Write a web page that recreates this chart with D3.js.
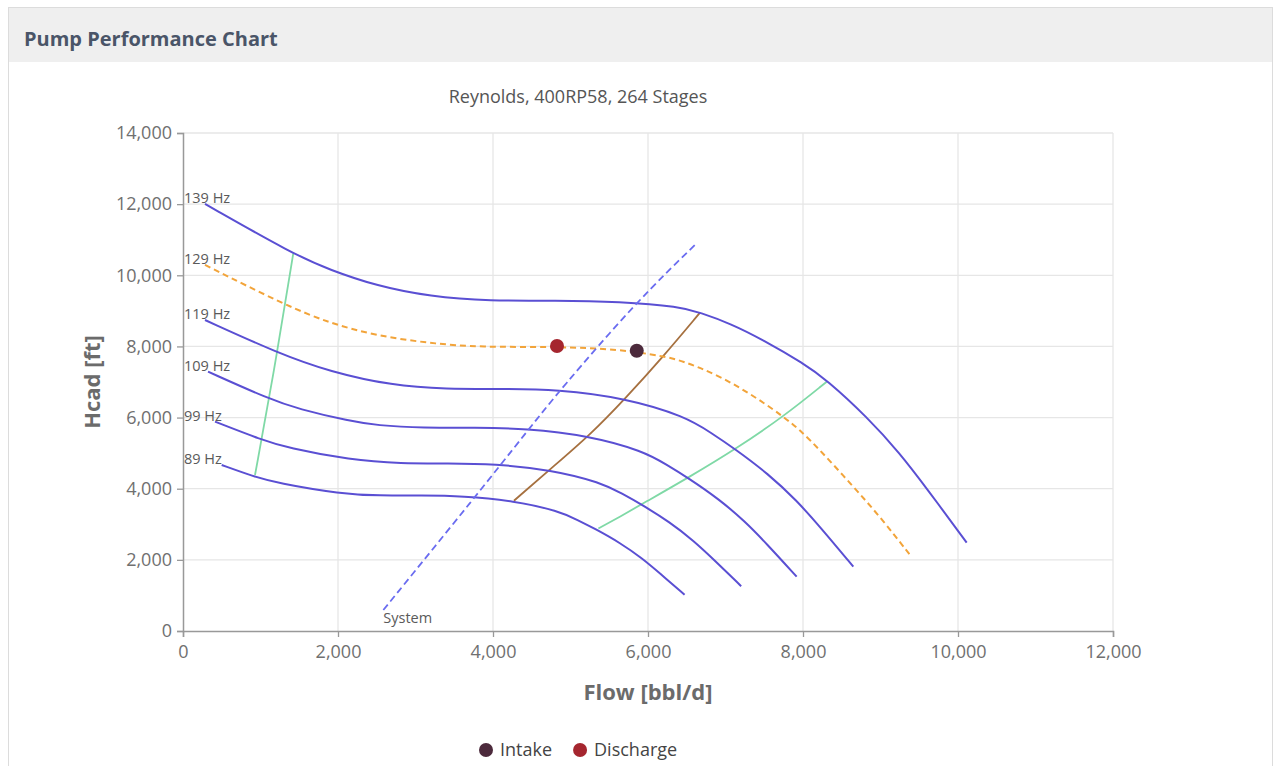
<!DOCTYPE html>
<html>
<head>
<meta charset="utf-8">
<script src="https://cdn.jsdelivr.net/npm/d3@7/dist/d3.min.js"></script>
<style>
body { margin: 0; background: #fff; font-family: "Open Sans", "Noto Sans", sans-serif; }
</style>
</head>
<body>
<svg id="chart" width="1275" height="766"></svg>
<script>
// ticks
var flowTicks = [0, 2000, 4000, 6000, 8000, 10000, 12000];
var headTicks = [0, 2000, 4000, 6000, 8000, 10000, 12000, 14000];

// pump curves [flow bbl/d, head ft]
var speeds = ["139 Hz", "129 Hz", "119 Hz", "109 Hz", "99 Hz", "89 Hz"];
var curve139 = [[284,12005],[1419,10600],[1897,10149],[2500,9700],[3187,9399],[3961,9278],[4800,9295],[5639,9259],[6413,9118],[6671,8950],[7058,8650],[7488,8181],[8004,7526],[8306,7060],[8822,6025],[9252,4995],[9596,4011],[10112,2483]];
var curve129 = [[284,10290],[1316,9165],[1897,8650],[2500,8300],[3187,8088],[3832,7976],[4826,7995],[5639,7920],[6198,7720],[6413,7619],[6929,7180],[7445,6494],[7746,6025],[7961,5651],[8219,5089],[8649,4058],[8994,3214],[9381,2137]];
var curve119 = [[284,8743],[1230,7807],[1897,7290],[2700,6900],[3400,6800],[4100,6810],[4830,6790],[5711,6547],[6484,6030],[6815,5569],[7111,5137],[7553,4416],[7921,3661],[8215,2940],[8649,1808]];
var curve109 = [[323,7290],[1113,6519],[1487,6242],[2155,5900],[2499,5780],[3106,5706],[3764,5716],[4421,5694],[5231,5493],[5939,5060],[6242,4673],[6513,4311],[6918,3705],[7255,3072],[7525,2467],[7918,1527]];
var curve99 = [[413,5885],[1011,5377],[1351,5148],[2155,4807],[2821,4707],[3419,4715],[4017,4697],[4751,4531],[5394,4174],[5670,3856],[5917,3556],[6284,3057],[6590,2534],[6836,2035],[7202,1260]];
var curve89 = [[499,4667],[908,4346],[1214,4161],[2040,3853],[2535,3804],[3072,3811],[3609,3796],[4270,3662],[4847,3374],[5095,3117],[5316,2874],[5646,2470],[5921,2048],[6141,1644],[6472,1018]];
var speedCurves = [curve139, curve129, curve119, curve109, curve99, curve89];

// operating range and system lines
var minFlowLine = [[929,4386],[1160,7100],[1423,10618]];
var maxFlowLine = [[5360,2880],[5639,3214],[5939,3590],[6542,4339],[7145,5136],[7746,6025],[8306,7009]];
var bepLine = [[4270,3662],[4735,4546],[5252,5510],[5711,6547],[6198,7720],[6671,8950]];
var systemCurve = [[2585,590],[3790,3823],[4435,5600],[4865,6775],[5854,9264],[6632,10908]];

// operating points
var pointNames = ["Intake", "Discharge"];
var pointFlow = [5855, 4826];
var pointHead = [7878, 8012];
var pointColors = ["#4c2a3c", "#a5262f"];

var svg = d3.select("#chart");

// panel
svg.append("rect").attr("x", 8.5).attr("y", 7.5).attr("width", 1264).attr("height", 770)
    .attr("fill", "#fff").attr("stroke", "#dcdcdc");
svg.append("rect").attr("x", 9).attr("y", 8).attr("width", 1263).attr("height", 54)
    .attr("fill", "#efefef");
svg.append("text").attr("x", 24).attr("y", 46)
    .style("font-size", "20px").style("font-weight", "bold").style("fill", "#4a5568")
    .text("Pump Performance Chart");

svg.append("text").attr("x", 578).attr("y", 103).attr("text-anchor", "middle")
    .style("font-size", "18px").style("fill", "#555")
    .text("Reynolds, 400RP58, 264 Stages");

var x = d3.scaleLinear().domain([0, 12000]).range([183, 1113]);
var y = d3.scaleLinear().domain([0, 14000]).range([631, 133]);

// grid
var grid = svg.append("g");
grid.selectAll(".gx").data(flowTicks.slice(1)).enter().append("line")
    .attr("x1", function(d){ return x(d); }).attr("x2", function(d){ return x(d); })
    .attr("y1", y(0)).attr("y2", y(14000))
    .attr("stroke", "#e6e6e6").attr("stroke-width", 1.3);
grid.selectAll(".gy").data(headTicks.slice(1)).enter().append("line")
    .attr("x1", x(0)).attr("x2", x(12000))
    .attr("y1", function(d){ return y(d); }).attr("y2", function(d){ return y(d); })
    .attr("stroke", "#e6e6e6").attr("stroke-width", 1.3);

// axes
var xAxis = svg.append("g").attr("transform", "translate(0," + y(0) + ")")
    .call(d3.axisBottom(x).tickValues(flowTicks).tickFormat(d3.format(",")).tickSize(6).tickPadding(8));
var yAxis = svg.append("g").attr("transform", "translate(" + x(0) + ",0)")
    .call(d3.axisLeft(y).tickValues(headTicks).tickFormat(d3.format(",")).tickSize(6).tickPadding(5));
[xAxis, yAxis].forEach(function(a){
    a.select(".domain").attr("stroke", "#999").attr("stroke-width", 1.5);
    a.selectAll(".tick line").attr("stroke", "#999").attr("stroke-width", 1.3);
    a.selectAll(".tick text").style("font-size", "18px").style("fill", "#707070")
        .style("font-family", "'Open Sans', sans-serif");
});

svg.append("text").attr("x", 648).attr("y", 700).attr("text-anchor", "middle")
    .style("font-size", "22px").style("font-weight", "bold").style("fill", "#6b6b6b")
    .text("Flow [bbl/d]");
svg.append("text").attr("transform", "translate(100,382) rotate(-90)").attr("text-anchor", "middle")
    .style("font-size", "22px").style("font-weight", "bold").style("fill", "#6b6b6b")
    .text("Hcad [ft]");

var line = d3.line()
    .x(function(d){ return x(d[0]); })
    .y(function(d){ return y(d[1]); })
    .curve(d3.curveBasis);

// operating window lines
svg.append("path").attr("d", line(minFlowLine)).attr("fill", "none")
    .attr("stroke", "#7fd9a6").attr("stroke-width", 1.8);
svg.append("path").attr("d", line(maxFlowLine)).attr("fill", "none")
    .attr("stroke", "#7fd9a6").attr("stroke-width", 1.8);
svg.append("path").attr("d", line(bepLine)).attr("fill", "none")
    .attr("stroke", "#a6703f").attr("stroke-width", 1.8);

// speed curves
speedCurves.forEach(function(c, i){
    var current = speeds[i] == "129 Hz";
    svg.append("path").attr("d", line(c)).attr("fill", "none")
        .attr("stroke", current ? "#f2a43a" : "#5a4fd3")
        .attr("stroke-width", 2)
        .attr("stroke-dasharray", current ? "6,4" : null);
    svg.append("text").attr("x", x(0) + 1).attr("y", y(c[0][1]) - 1)
        .style("font-size", "14.5px").style("fill", "#5a5a5a")
        .text(speeds[i]);
});

// system curve
svg.append("path").attr("d", line(systemCurve)).attr("fill", "none")
    .attr("stroke", "#6a6cf0").attr("stroke-width", 1.8).attr("stroke-dasharray", "7,4");
svg.append("text").attr("x", x(systemCurve[0][0])).attr("y", y(systemCurve[0][1]) + 13)
    .style("font-size", "14.5px").style("fill", "#5a5a5a").text("System");

// operating points
svg.selectAll(".pt").data(pointNames).enter().append("circle")
    .attr("cx", function(d, i){ return x(pointFlow[i]); })
    .attr("cy", function(d, i){ return y(pointHead[i]); })
    .attr("r", 7).attr("fill", function(d, i){ return pointColors[i]; });

// legend
var legend = svg.append("g").attr("transform", "translate(486,750)");
var lx = 0;
pointNames.forEach(function(n, i){
    legend.append("circle").attr("cx", lx).attr("cy", 0).attr("r", 7).attr("fill", pointColors[i]);
    var t = legend.append("text").attr("x", lx + 14).attr("y", 6)
        .style("font-size", "18px").style("fill", "#444").text(n);
    lx += t.node().getComputedTextLength() + 42;
});
</script>
</body>
</html>
